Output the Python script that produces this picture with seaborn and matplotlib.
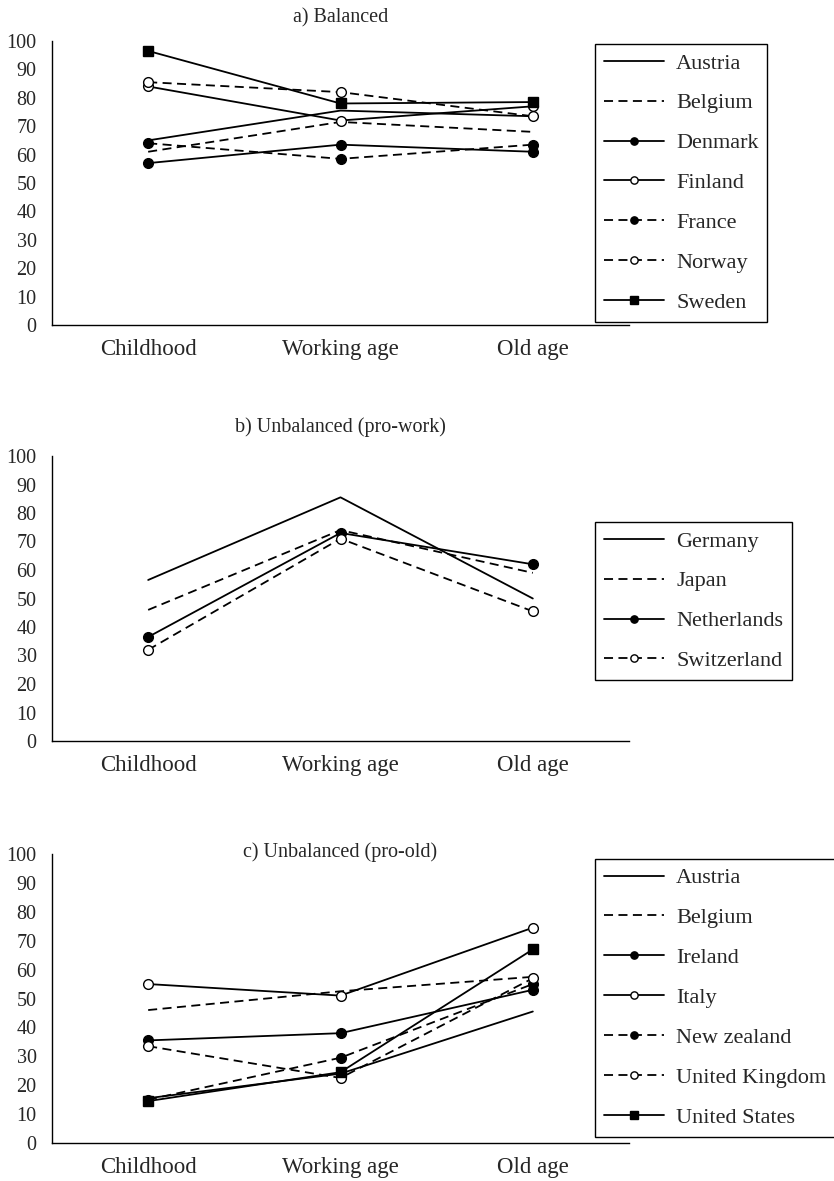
import matplotlib
matplotlib.use("Agg")
import matplotlib.pyplot as plt
import seaborn as sns
import pandas as pd

sns.set_style("white")
plt.rcParams["font.family"] = ["Liberation Serif", "DejaVu Serif"]
plt.rcParams["font.size"] = 14

stages = ["Childhood", "Working age", "Old age"]

# a) Balanced
balanced_countries = ["Austria", "Belgium", "Denmark", "Finland", "France", "Norway", "Sweden"]
balanced_values = [
    [65.0, 75.5, 73.5],
    [61.0, 71.5, 68.0],
    [57.0, 63.5, 61.0],
    [84.0, 72.0, 77.0],
    [64.0, 58.5, 63.5],
    [85.5, 82.0, 73.5],
    [96.5, 78.0, 78.5],
]
balanced_styles = ["solid", "dashed", "solid_filled", "solid_open", "dashed_filled", "dashed_open", "solid_square"]

# b) Unbalanced (pro-work)
prowork_countries = ["Germany", "Japan", "Netherlands", "Switzerland"]
prowork_values = [
    [56.5, 85.5, 50.0],
    [46.0, 74.0, 59.0],
    [36.5, 73.0, 62.0],
    [32.0, 71.0, 45.5],
]
prowork_styles = ["solid", "dashed", "solid_filled", "dashed_open"]

# c) Unbalanced (pro-old)
proold_countries = ["Austria", "Belgium", "Ireland", "Italy", "New zealand", "United Kingdom", "United States"]
proold_values = [
    [15.5, 24.0, 45.5],
    [46.0, 52.5, 57.5],
    [35.5, 38.0, 53.0],
    [55.0, 51.0, 74.5],
    [15.0, 29.5, 55.0],
    [33.5, 22.5, 57.0],
    [14.5, 24.5, 67.0],
]
proold_styles = ["solid", "dashed", "solid_filled", "solid_open", "dashed_filled", "dashed_open", "solid_square"]

DASH = (0, (5, 3))
STYLE_KW = {
    "solid": dict(linestyle="-", marker=None),
    "dashed": dict(linestyle=DASH, marker=None),
    "solid_filled": dict(linestyle="-", marker="o", markerfacecolor="black"),
    "solid_open": dict(linestyle="-", marker="o", markerfacecolor="white"),
    "dashed_filled": dict(linestyle=DASH, marker="o", markerfacecolor="black"),
    "dashed_open": dict(linestyle=DASH, marker="o", markerfacecolor="white"),
    "solid_square": dict(linestyle="-", marker="s", markerfacecolor="black"),
}

fig = plt.figure(figsize=(8.34, 11.81), dpi=100)

W = 834.0
H = 1181.0
x_left, x_right = 52, 629


def make_axes(top_px, bottom_px):
    return fig.add_axes([x_left / W, 1 - bottom_px / H,
                         (x_right - x_left) / W, (bottom_px - top_px) / H])


def draw_panel(ax, title, title_y, countries, values, styles, legend_top):
    pos = list(range(len(stages)))
    for name, vals, st in zip(countries, values, styles):
        kw = dict(STYLE_KW[st])
        df = pd.DataFrame({"stage": pos, "value": vals})
        sns.lineplot(data=df, x="stage", y="value", ax=ax, color="black",
                     linewidth=1.3, markersize=7, markeredgecolor="black",
                     markeredgewidth=1.0, label=name, **kw)
    ax.set_xlim(-0.5, len(stages) - 0.5)
    ax.set_ylim(0, 100)
    ax.set_yticks(range(0, 101, 10))
    ax.set_xticks([i - 0.5 for i in range(len(stages) + 1)])
    ax.set_xticklabels([])
    ax.set_xticks(pos, minor=True)
    ax.set_xticklabels(stages, minor=True)
    ax.tick_params(axis="x", which="major", direction="out", length=7, width=1, color="black")
    ax.tick_params(axis="x", which="minor", length=0, pad=10, labelsize=16.5)
    ax.tick_params(axis="y", direction="out", length=7, width=1, color="black", pad=4, labelsize=14.5)
    ax.set_xlabel("")
    ax.set_ylabel("")
    for side in ["top", "right"]:
        ax.spines[side].set_visible(False)
    for side in ["left", "bottom"]:
        ax.spines[side].set_color("black")
        ax.spines[side].set_linewidth(1.0)
    ax.text(0.5, title_y, title, transform=ax.transAxes, ha="center", va="center", fontsize=14.5)
    handles, labels = ax.get_legend_handles_labels()
    leg = ax.legend(handles, labels, loc="upper left", bbox_to_anchor=(0.941, legend_top),
                    borderaxespad=0, frameon=True, fancybox=False, framealpha=1,
                    edgecolor="black", fontsize=16, handlelength=2.7, handletextpad=0.55,
                    labelspacing=0.87, borderpad=0.4, markerscale=0.75)
    leg.get_frame().set_linewidth(1.0)


ax_a = make_axes(41, 325)
draw_panel(ax_a, "a) Balanced", 1.08, balanced_countries, balanced_values,
           balanced_styles, 0.989)

ax_b = make_axes(456, 741)
draw_panel(ax_b, "b) Unbalanced (pro-work)", 1.10, prowork_countries, prowork_values,
           prowork_styles, 0.768)

ax_c = make_axes(854, 1143)
draw_panel(ax_c, "c) Unbalanced (pro-old)", 1.005, proold_countries, proold_values,
           proold_styles, 0.983)

fig.savefig("out.png", dpi=100, facecolor="white")
